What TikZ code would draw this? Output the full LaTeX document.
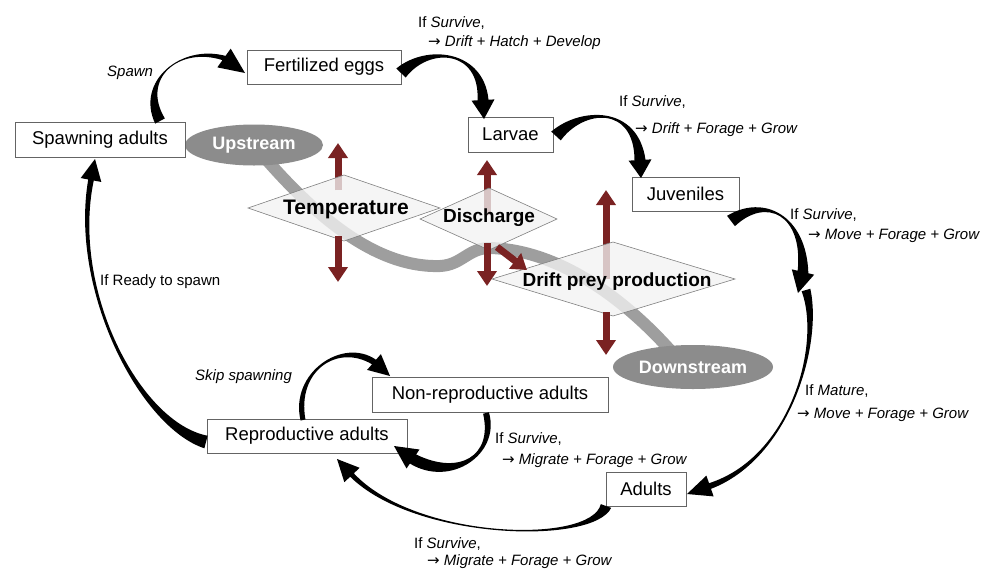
\documentclass[tikz,border=0pt]{standalone}
\usepackage{fontspec}
\setmainfont{Liberation Sans}
\newfontfamily\arrfont{DejaVu Sans}
\newcommand{\rarr}{{\arrfont\upshape →}}
\usetikzlibrary{shapes.geometric,arrows.meta,calc}
\definecolor{dred}{RGB}{122,34,34}
\definecolor{rivergray}{RGB}{158,158,158}
\definecolor{ellgray}{RGB}{140,140,140}
\definecolor{boxline}{RGB}{100,100,100}
\definecolor{diafill}{RGB}{242,242,242}
% tapered curved arrow: start, ctrl1, ctrl2, body end, tip, tail half-width, ctrl factor, end half-width, head half-width
\newcommand{\tarr}[9]{%
  \coordinate (tS) at (#1);
  \coordinate (tA) at (#2);
  \coordinate (tB) at (#3);
  \coordinate (tE) at (#4);
  \coordinate (tH) at (#5);
  \coordinate (tS1) at ($(tS)!#6!90:(tA)$);
  \coordinate (tS2) at ($(tS)!#6!-90:(tA)$);
  \coordinate (tE1) at ($(tE)!#8!90:(tH)$);
  \coordinate (tE2) at ($(tE)!#8!-90:(tH)$);
  \coordinate (tK1) at ($(tE)!#9!90:(tH)$);
  \coordinate (tK2) at ($(tE)!#9!-90:(tH)$);
  \fill[black] (tS1) .. controls ($(tA)+#7*(tS1)-#7*(tS)$) and ($(tB)+#7*(tE1)-#7*(tE)$) .. (tE1)
     -- (tK1) -- (tH) -- (tK2) -- (tE2)
     .. controls ($(tB)+#7*(tE2)-#7*(tE)$) and ($(tA)+#7*(tS2)-#7*(tS)$) .. (tS2) -- cycle;
}
\begin{document}
\begin{tikzpicture}[x=1pt,y=-1pt,
  box/.style={draw=boxline, line width=0.9pt, fill=white, inner sep=0pt, font=\fontsize{18.5}{20}\selectfont},
  lab/.style={font=\fontsize{15}{17}\selectfont, inner sep=0pt, anchor=base west},
  ell/.style={ellipse, fill=ellgray, text=white, font=\bfseries\fontsize{18}{20}\selectfont, inner sep=0pt},
  dia/.style={draw=gray, line width=0.6pt, fill=diafill, fill opacity=0.78},
  diatext/.style={font=\bfseries\fontsize{19}{21}\selectfont, inner sep=0pt},
  redarr/.style={dred, line width=7pt, -{Triangle[width=19pt,length=15pt]}},
  river/.style={rivergray, line width=12pt, line cap=round}]
\useasboundingbox (0,0) rectangle (998,568);

% river
\coordinate (rivA) at (265,158);
\coordinate (rivB) at (670,350);
\draw[river] (rivA) .. controls (315,215) and (375,268) .. (440,266)
  .. controls (462,265) and (468,248) .. (490,248)
  .. controls (560,250) and (625,300) .. (rivB);

% red arrows drawn beneath diamonds
\coordinate (t0) at (338,190); \coordinate (t1) at (338,143);
\coordinate (d0) at (487,215); \coordinate (d1) at (487,160);
\coordinate (p0) at (606,279); \coordinate (p1) at (606,190);
\draw[redarr] (t0) -- (t1);
\draw[redarr] (d0) -- (d1);
\draw[redarr] (p0) -- (p1);

% diamonds
\filldraw[dia] (248,208) -- (344,175) -- (440,208) -- (344,241) -- cycle;
\filldraw[dia] (420,219) -- (489,188) -- (557,219) -- (489,250) -- cycle;
\filldraw[dia] (492,279) -- (613,242) -- (735,279) -- (613,316) -- cycle;

% red arrows drawn over diamonds
\coordinate (t2) at (338,236); \coordinate (t3) at (338,282);
\coordinate (d2) at (487,243); \coordinate (d3) at (487,286);
\coordinate (d4) at (497,247); \coordinate (d5) at (527,270);
\coordinate (p2) at (606,312); \coordinate (p3) at (606,355);
\draw[redarr] (t2) -- (t3);
\draw[redarr] (d2) -- (d3);
\draw[redarr] (d4) -- (d5);
\draw[redarr] (p2) -- (p3);

\node[diatext, font=\bfseries\fontsize{21}{23}\selectfont] (temp) at (346,209) {Temperature};
\node[diatext] (disch) at (489,218) {Discharge};
\node[diatext] (drift) at (617,282) {Drift prey production};

% ellipses
\node[ell, minimum width=138pt, minimum height=41pt] (up) at (254,145) {Upstream};
\node[ell, minimum width=160pt, minimum height=44pt] (down) at (693,367) {Downstream};

% boxes
\node[box, minimum width=154pt, minimum height=34pt] (fert) at (324,67) {Fertilized eggs};
\node[box, minimum width=170pt, minimum height=35pt] (spawn) at (100,140) {Spawning adults};
\node[box, minimum width=85pt, minimum height=35pt] (larv) at (510.5,134.5) {Larvae};
\node[box, minimum width=107pt, minimum height=34pt] (juv) at (685.5,194) {Juveniles};
\node[box, minimum width=236pt, minimum height=35pt] (nonrep) at (490,394.5) {Non-reproductive adults};
\node[box, minimum width=200pt, minimum height=34pt] (rep) at (307,436) {Reproductive adults};
\node[box, minimum width=80pt, minimum height=34pt] (adults) at (646,489) {Adults};

% black tapered arrows
\tarr{160,121}{138,80}{180,45}{224,58}{245,73}{5.5pt}{0.55}{2.6pt}{11.5pt}
\tarr{401,73}{428,45}{482,50}{483,100}{484,119}{6.5pt}{0.3}{5.5pt}{11.5pt}
\tarr{556,136}{582,108}{636,105}{640,160}{641,178}{6.5pt}{0.3}{5.5pt}{11.5pt}
\tarr{731,221}{765,195}{805,215}{803,272}{798,293}{6.5pt}{0.3}{5.5pt}{11.5pt}
\tarr{806,290}{822,345}{790,458}{710,486}{687,494}{4.5pt}{0.15}{3pt}{11pt}
\tarr{606,506}{592,545}{415,540}{352,475}{337,459}{5.5pt}{0.2}{2.5pt}{10.5pt}
\tarr{486,413}{497,455}{455,482}{413,459}{394,446}{3pt}{1.4}{5.5pt}{11.5pt}
\tarr{303,420}{293,372}{340,340}{374,362}{390,376}{2.5pt}{1.5}{3pt}{10.5pt}
\tarr{206,442}{140,425}{70,290}{91,180}{95,159}{6.5pt}{0.3}{2.8pt}{10.5pt}

% labels
\node[lab] (l1) at (107,76) {\textit{Spawn}};
\node[lab] (l2a) at (418,27) {If \textit{Survive},};
\node[lab] (l2b) at (428,46) {\rarr\ \textit{Drift + Hatch + Develop}};
\node[lab] (l3a) at (619,106) {If \textit{Survive},};
\node[lab] (l3b) at (635,133) {\rarr\ \textit{Drift + Forage + Grow}};
\node[lab] (l4a) at (790,219) {If \textit{Survive},};
\node[lab] (l4b) at (808,239) {\rarr\ \textit{Move + Forage + Grow}};
\node[lab] (l5a) at (805,395) {If \textit{Mature},};
\node[lab] (l5b) at (797,418) {\rarr\ \textit{Move + Forage + Grow}};
\node[lab] (l6a) at (495,443) {If \textit{Survive},};
\node[lab] (l6b) at (502,464) {\rarr\ \textit{Migrate + Forage + Grow}};
\node[lab] (l7a) at (414,548) {If \textit{Survive},};
\node[lab] (l7b) at (427,565) {\rarr\ \textit{Migrate + Forage + Grow}};
\node[lab] (l8) at (100,285) {If Ready to spawn};
\node[lab] (l9) at (195,380) {\textit{Skip spawning}};
\end{tikzpicture}
\end{document}
